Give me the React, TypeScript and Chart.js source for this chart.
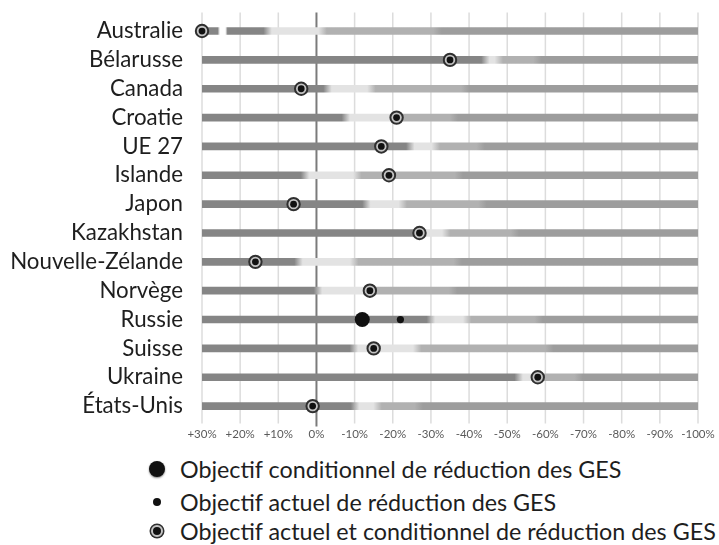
import React, { useEffect, useRef } from 'react';
import { Chart, registerables } from 'chart.js';

Chart.register(...registerables);

// ---- Data ----
const countries = [
  'Australie', 'Bélarusse', 'Canada', 'Croatie', 'UE 27', 'Islande', 'Japon',
  'Kazakhstan', 'Nouvelle-Zélande', 'Norvège', 'Russie', 'Suisse', 'Ukraine', 'États-Unis',
];
// reduction (%) where the dark band turns light, light turns mid-grey, mid-grey turns medium
const darkEnd = [-12.8, 44.3, 2.9, 7.7, 24.6, -3, 13.1, 28, -4.7, 0.4, 30, 9.8, 53, 10.1];
const lightEnd = [1.6, 47.8, 14.4, 21, 31.3, 10.7, 22.6, 34, 9.9, 14, 39.5, 26.4, 58.5, 16];
const midEnd = [31.7, 57.9, 39, 36, 43, 37.3, 43.5, 52, 37, 35.8, 58.2, 61, 68.7, 26.8];
const gapStart: (number | null)[] = [-25.6, null, null, null, null, null, null, null, null, null, null, null, null, null];
const gapEnd: (number | null)[] = [-23.6, null, null, null, null, null, null, null, null, null, null, null, null, null];
// targets (reduction %, negative = increase)
const combinedTarget: (number | null)[] = [-30, 35, -4, 21, 17, 19, -6, 27, -16, 14, null, 15, 58, -1];
const conditionalTarget: (number | null)[] = [null, null, null, null, null, null, null, null, null, null, 12, null, null, null];
const currentTarget: (number | null)[] = [null, null, null, null, null, null, null, null, null, null, 22, null, null, null];

const axisMin = -30;
const axisMax = 100;
const axisStep = 10;
const tickLabels = ['+30%', '+20%', '+10%', '0%', '-10%', '-20%', '-30%', '-40%', '-50%', '-60%', '-70%', '-80%', '-90%', '-100%'];

const legendLabels = [
  'Objectif conditionnel de réduction des GES',
  'Objectif actuel de réduction des GES',
  'Objectif actuel et conditionnel de réduction des GES',
];

const C_DARK = '#858585';
const C_LIGHT = '#e3e3e3';
const C_MID = '#b1b1b1';
const C_MED = '#9d9d9d';

const FONT = 'Lato, "Open Sans", sans-serif';

function pts(arr: (number | null)[]) {
  const out: { x: number; y: string }[] = [];
  arr.forEach((v, i) => {
    if (v !== null) out.push({ x: v, y: countries[i] });
  });
  return out;
}

function barGradient(ctx: any) {
  const chart = ctx.chart;
  const xs = chart.scales && chart.scales.x;
  if (!xs || !chart.chartArea || ctx.dataIndex === undefined) return C_MED;
  const i = ctx.dataIndex;
  const x0 = xs.getPixelForValue(axisMin);
  const x1 = xs.getPixelForValue(axisMax);
  const g = chart.ctx.createLinearGradient(x0, 0, x1, 0);
  const span = axisMax - axisMin;
  let last = 0;
  const add = (v: number, c: string) => {
    let o = Math.min(1, Math.max(0, (v - axisMin) / span));
    if (o < last) o = last;
    last = o;
    g.addColorStop(o, c);
  };
  const T = 1.1;
  add(axisMin, C_DARK);
  const gs = gapStart[i];
  const ge = gapEnd[i];
  if (gs !== null && ge !== null) {
    add(gs - 0.3, C_DARK);
    add(gs + 0.3, '#ffffff');
    add(ge - 0.3, '#ffffff');
    add(ge + 0.3, C_DARK);
  }
  add(darkEnd[i] - T, C_DARK);
  add(darkEnd[i] + T, C_LIGHT);
  add(lightEnd[i] - T, C_LIGHT);
  add(lightEnd[i] + T, C_MID);
  add(midEnd[i] - T, C_MID);
  add(midEnd[i] + T, C_MED);
  add(axisMax, C_MED);
  return g;
}

const gridPlugin = {
  id: 'customGrid',
  beforeDatasetsDraw(chart: any) {
    const { ctx, chartArea, scales } = chart;
    const x = scales.x;
    ctx.save();
    x.ticks.forEach((t: any) => {
      const px = x.getPixelForValue(t.value);
      const zero = t.value === 0;
      ctx.strokeStyle = zero ? '#7b7b7b' : '#dcdcdc';
      ctx.lineWidth = zero ? 2 : 1.5;
      ctx.beginPath();
      ctx.moveTo(px, chartArea.top - 4);
      ctx.lineTo(px, chartArea.bottom + (zero ? 6 : 3));
      ctx.stroke();
    });
    ctx.restore();
  },
};

function ChartCanvas() {
  const ref = useRef<HTMLCanvasElement | null>(null);
  useEffect(() => {
    if (!ref.current) return;
    const chart = new Chart(ref.current, {
      type: 'bar',
      data: {
        labels: countries,
        datasets: [
          {
            type: 'scatter',
            data: pts(currentTarget),
            pointRadius: 3.6,
            pointBackgroundColor: '#111',
            pointBorderWidth: 0,
            clip: false,
            order: 0,
          } as any,
          {
            type: 'scatter',
            data: pts(conditionalTarget),
            pointRadius: 7.5,
            pointBackgroundColor: '#111',
            pointBorderWidth: 0,
            clip: false,
            order: 1,
          } as any,
          {
            type: 'scatter',
            data: pts(combinedTarget),
            pointRadius: 3.4,
            pointBackgroundColor: '#111',
            pointBorderWidth: 0,
            clip: false,
            order: 2,
          } as any,
          {
            type: 'scatter',
            data: pts(combinedTarget),
            pointRadius: 6.2,
            pointBackgroundColor: '#c4c4c4',
            pointBorderColor: '#2f2f2f',
            pointBorderWidth: 2,
            clip: false,
            order: 3,
          } as any,
          {
            type: 'bar',
            data: countries.map(() => [axisMin, axisMax]),
            backgroundColor: barGradient,
            borderWidth: 0,
            barThickness: 7,
            order: 10,
          } as any,
        ],
      },
      options: {
        indexAxis: 'y',
        responsive: false,
        animation: false,
        devicePixelRatio: 1,
        layout: { padding: { top: 16.6, right: 21, bottom: 0, left: 0 } },
        plugins: { legend: { display: false }, tooltip: { enabled: false } },
        scales: {
          x: {
            type: 'linear',
            min: axisMin,
            max: axisMax,
            grid: { display: false, drawTicks: false },
            border: { display: false },
            afterFit: (s: any) => { s.height = 24.5; s.paddingLeft = 0; s.paddingRight = 0; },
            ticks: {
              stepSize: axisStep,
              padding: 7,
              maxRotation: 0,
              autoSkip: false,
              color: '#5a5a5a',
              font: { family: FONT, size: 11.5 },
              callback: (_v: any, idx: number) => tickLabels[idx],
            },
          },
          y: {
            type: 'category',
            grid: { display: false, drawTicks: false },
            border: { display: false },
            afterFit: (s: any) => { s.width = 202; s.paddingTop = 0; s.paddingBottom = 0; },
            ticks: {
              autoSkip: false,
              padding: 19,
              color: '#1e1e1e',
              font: { family: FONT, size: 22.3 },
            },
          },
        },
      } as any,
      plugins: [gridPlugin],
    });
    return () => chart.destroy();
  }, []);
  return <canvas ref={ref} width={719} height={445} style={{ display: 'block' }} />;
}

export default function App() {
  const markerCenterX = 157;
  const rows = [469, 502, 531];
  return (
    <div style={{ position: 'absolute', left: 0, top: 0, width: 719, height: 545, background: '#fff', overflow: 'hidden' }}>
      <ChartCanvas />
      {/* legend markers */}
      <div style={{ position: 'absolute', left: markerCenterX - 8, top: rows[0] - 8, width: 16, height: 16, borderRadius: '50%', background: '#111', boxShadow: '0 1px 2px rgba(0,0,0,0.5)' }} />
      <div style={{ position: 'absolute', left: markerCenterX - 4, top: rows[1] - 4, width: 8, height: 8, borderRadius: '50%', background: '#111' }} />
      <div style={{ position: 'absolute', left: markerCenterX - 6, top: rows[2] - 6, width: 8, height: 8, borderRadius: '50%', background: '#111', border: '2px solid #c4c4c4', boxShadow: '0 0 0 1.5px #2f2f2f' }} />
      {legendLabels.map((t, i) => (
        <div key={t} style={{ position: 'absolute', left: 180, top: rows[i] - 14, height: 28, lineHeight: '28px', fontFamily: FONT, fontSize: 23.3, color: '#1e1e1e', whiteSpace: 'nowrap' }}>{t}</div>
      ))}
    </div>
  );
}
